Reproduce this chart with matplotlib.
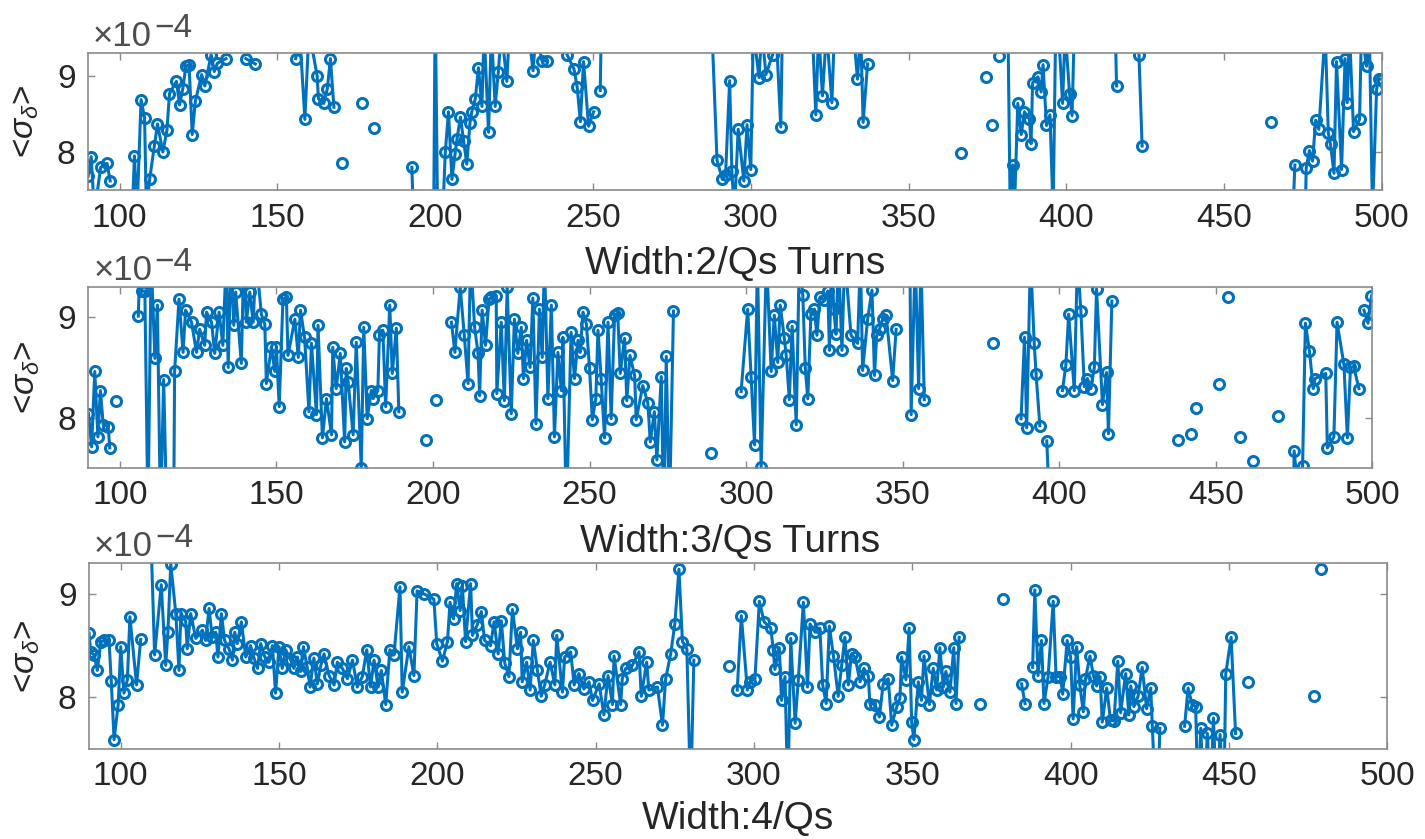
import numpy as np
import matplotlib
matplotlib.use("Agg")
import matplotlib.pyplot as plt

nan = np.nan

# ---------------- data (values in units of 1e-4) ----------------
x1 = [90, 91, 92, 94, 96, 97, nan,
      104, 104.7, 105.5, 106.8, 107.9, 108.5, 109.5, 111, 112, 113.7, 115, 115.8, 118, 119, 120,
      121, 122, 123, 124, 126, 127, 129, 130, 131, 133.7, nan,
      140, 143, nan,
      155.8, 157, 158.7, 160, 162.6, 163, 164.7, 165.8, 166.8, 167.9, nan,
      170.5, nan, 176.8, nan, 180.5, nan,
      192.6, 193.2, nan, 199.5, 200, 200.8, 202.5, 203.2, 204.2, 205.3, 206.3, 206.9, 208, 209, 210,
      211, 211.6, 212.7, 213.7, 214.8, 215.5, 216.9, 217.8, 219, 220, 221, 222.7, 223.5, nan,
      229.5, 231, 232, 233.8, 235.4, nan,
      241.8, 244, 245, 246, 247, 248.6, 250.2, nan, 252.3, 252.6, nan,
      287.7, 289.3, 291, 292, 293.3, 294, 294.8, 296, 297.8, 298.8, 300, 300.8, 302.6, 303.5,
      304.8, 306.9, 308, 309.5, 310, nan,
      319.5, 320.6, 321.5, 322.7, 324, 325.7, 326.5, nan,
      332.5, 333.8, 334.8, 335.6, 337, nan,
      366.6, nan, 374.5, nan, 376.4, nan, 378.8, nan,
      381.5, 382.2, 383, 383.5, 384.6, 385.7, 386.7, 388.3, 388.8, 389.3, 391, 392, 392.6, 393.7,
      394.8, 395.8, 396.6, 397.5, 398.8, 399.6, 401, 401.8, 402.5, nan,
      415.5, 415.9, nan, 423, 424, nan, 464.7, nan,
      471.8, 472.4, nan, 475.7, 476, 477, 478, 479, 480, 482, 483, 483.7, 484.8, 485.6, 487.2,
      488.3, 489, 489.7, 491, 492.9, 493.5, 495.1, 496, 497, 498.3, 499, 500]
y1 = [7.68, 7.94, 7.2, 7.80, 7.85, 7.62, nan,
      7.2, 7.95, 7.2, 8.69, 8.45, 7.2, 7.64, 8.08, 8.37, 8.00, 8.29, 8.77, 8.93, 8.62, 8.83,
      9.13, 9.15, 8.23, 8.67, 9.02, 8.87, 9.28, 9.06, 9.17, 9.23, nan,
      9.23, 9.16, nan,
      9.23, 9.6, 8.43, 9.6, 9.00, 8.70, 8.64, 8.83, 9.23, 8.59, nan,
      7.85, nan, 8.64, nan, 8.32, nan,
      7.80, 7.0, nan, 7.0, 10.0, 7.0, 7.3, 8.00, 8.53, 7.64, 7.98, 8.17, 8.46, 8.15, 7.84,
      8.38, 8.53, 8.70, 9.11, 8.60, 9.6, 8.26, 9.6, 8.60, 9.06, 9.6, 8.93, 9.6, nan,
      9.6, 9.07, 9.6, 9.20, 9.20, nan,
      9.28, 9.09, 8.85, 8.40, 9.19, 8.34, 8.53, nan, 8.81, 9.6, nan,
      9.6, 7.89, 7.64, 7.70, 8.94, 7.75, 7.2, 8.30, 7.62, 8.36, 7.77, 9.6, 8.98, 9.6,
      9.02, 9.28, 9.6, 8.33, 9.6, nan,
      9.6, 8.49, 9.6, 8.74, 9.6, 8.65, 9.6, nan,
      9.6, 8.96, 9.6, 8.39, 9.16, nan,
      7.99, nan, 8.99, nan, 8.36, nan, 9.26, nan,
      9.6, 7.2, 7.83, 7.2, 8.64, 8.23, 8.53, 8.43, 8.11, 8.91, 8.99, 8.79, 9.15, 8.35,
      8.49, 7.2, 9.6, 9.6, 8.64, 9.6, 8.77, 8.48, 9.6, nan,
      9.6, 8.87, nan, 9.28, 8.08, nan, 8.40, nan,
      7.2, 7.83, nan, 7.2, 7.79, 8.02, 7.88, 8.42, 8.30, 9.6, 8.25, 8.10, 7.72, 9.19, 7.77,
      9.23, 8.65, 9.6, 8.27, 8.43, 9.6, 9.13, 9.6, 7.2, 8.83, 8.96, 8.96]

x2 = [90, 91, 92, 93, 93.8, 94.7, 96.3, 96.8, nan, 98.9, nan,
      105.9, 106.5, 107, 108, 109, 110, 111.2, 112, 113, 114, 115, 117.2, 117.5, 118.9, 120.2,
      121, 122.9, 124.5, 125.5, 127.1, 127.7, 129.3, 130.3, 131.7, 132.9, 134, 134.6, 135.5,
      136.4, 137, 138.8, 139.6, 140.4, 141.5, 142.6, 143.5, 145.2, 146.3, 146.8, 148.4, 149.5,
      150, 150.9, 152.1, 153.2, 153.7, 155.9, 157, 157.7, 159, 160.4, 161.2, 162.8, 163.3,
      164.7, 166, 167.6, 168, 169.1, 170.4, 171.8, 172.3, 172.9, 174.5, 175.5, 177.1, 177.9,
      179, 180.3, 180.9, 182.4, 182.9, 184, 184.9, 186.2, 187, 188.3, 189.1, nan,
      197.9, nan, 200.9, nan,
      205.9, 207, 208.7, 210, 211.2, 212, 213.3, 214.4, 214.9, 215.7, 216.8, 217.9, 218.6,
      220.2, 220.4, 221.8, 222.8, 223.7, 225, 226, 227.1, 228.2, 228.9, 229.9, 231, 231.9,
      232.9, 234, 234.9, 235.6, 236.7, 237.8, 238.8, 239.9, 241, 241.5, 242.6, 244.1, 245.2,
      246.3, 247, 247.9, 249, 250, 250.9, 252, 252.7, 253.7, 254.8, 255.9, 256.9, 258, 259,
      259.8, 261.2, 261.9, 262.9, 264.4, 264.9, 267, 268.6, 269.4, 270.7, 271.5, 272.9, 273.7,
      274.5, 275.5, 276.8, nan,
      288.8, nan,
      298.4, 300.5, 301.6, 302.7, 303.6, 304.8, 306.5, 308, 309, 310.1, 310.9, 312.2, 312.8,
      313.8, 314.7, 316, 317, 318.1, 318.9, 319.7, 320.7, 321.8, 322.6, 323.6, 325, 326.1,
      326.6, 327.3, 328, 328.7, 329.5, 330.6, 331.5, 333.5, 335.6, 336.5, 337.2, 338.8, 340.2,
      341, 341.7, 342.6, 343.6, 344.7, 346.8, 347.9, nan,
      352.3, 352.7, 354, 355.1, 355.8, 356.9, nan,
      378.7, nan,
      387.8, 388.9, 389.6, 390.8, 392, 392.6, 393.8, nan, 396, 396.8, nan,
      401, 402.1, 403, 404.8, 405.8, 406.9, 408, 409, 410.1, 411.2, 411.9, 413.8, 415.1,
      415.7, 416.8, nan,
      437.8, nan, 442, nan, 443.8, nan, 450.9, nan, 454, nan, 457.7, nan, 461.9, nan, 470, nan,
      474.8, 475, 476.5, 477.7, 478.6, 479.9, 481.1, 481.7, 485.1, 485.6, 487.7, 488.7, 490.9,
      492, 493, 494, 495.7, nan, 497.3, 498.6, 499.7]
y2 = [8.04, 7.71, 8.46, 7.81, 8.27, 7.93, 7.91, 7.70, nan, 8.17, nan,
      9.01, 9.6, 9.26, 9.26, 7.0, 9.6, 8.59, 9.12, 7.0, 8.38, 7.0, 7.0, 8.46, 9.18, 8.65,
      9.07, 8.95, 8.65, 8.88, 8.72, 9.05, 8.95, 8.64, 9.05, 8.72, 9.6, 8.50, 9.6,
      8.92, 9.25, 8.54, 9.6, 8.95, 9.25, 8.95, 9.6, 9.03, 8.93, 8.34, 8.70, 8.46,
      8.70, 8.11, 9.18, 9.20, 8.62, 8.98, 8.60, 9.07, 8.80, 8.06, 8.74, 8.03, 8.92,
      7.80, 8.19, 7.83, 8.70, 8.29, 8.64, 7.76, 8.49, 8.36, 7.83, 8.75, 7.50, 8.90,
      7.99, 8.27, 8.19, 8.27, 8.82, 8.87, 8.11, 9.12, 8.44, 8.89, 8.06, nan,
      7.78, nan, 8.18, nan,
      8.95, 8.65, 9.30, 8.82, 8.34, 9.6, 8.90, 8.64, 8.22, 9.07, 8.72, 9.18, 9.20,
      9.21, 8.24, 8.95, 8.17, 9.30, 8.04, 8.98, 8.64, 8.90, 8.39, 8.77, 8.50, 9.19,
      7.94, 9.08, 8.60, 9.6, 8.19, 9.12, 7.81, 8.65, 8.27, 8.80, 7.0, 8.85, 8.39,
      8.77, 8.65, 9.05, 8.93, 8.49, 7.98, 8.19, 8.87, 8.39, 7.80, 8.95, 7.99, 9.02, 9.04,
      8.44, 8.79, 8.17, 8.62, 8.42, 7.98, 8.32, 8.15, 7.76, 8.06, 7.58, 8.41, 7.0,
      8.61, 7.0, 9.06, nan,
      7.65, nan,
      8.26, 9.08, 8.41, 7.73, 9.6, 7.51, 9.6, 8.46, 9.02, 8.55, 9.12, 8.79, 8.62,
      8.18, 8.91, 7.93, 9.6, 9.22, 8.49, 8.19, 9.03, 9.08, 8.82, 9.20, 9.17, 9.26,
      8.67, 9.6, 9.08, 8.83, 9.6, 8.67, 9.6, 8.82, 8.74, 9.6, 8.47, 8.98, 9.27,
      8.42, 8.82, 8.88, 8.98, 9.02, 8.37, 8.88, nan,
      9.6, 8.03, 9.6, 8.29, 9.6, 8.18, nan,
      8.74, nan,
      7.99, 8.80, 7.90, 9.6, 8.74, 8.43, 7.92, nan, 7.77, 7.2, nan,
      8.27, 8.52, 9.03, 8.27, 9.6, 9.06, 8.31, 8.39, 8.29, 8.50, 9.28, 8.13, 8.45,
      7.84, 9.16, nan,
      7.78, nan, 7.84, nan, 8.10, nan, 8.34, nan, 9.20, nan, 7.81, nan, 7.57, nan, 8.02, nan,
      7.2, 7.67, 7.2, 7.52, 8.94, 8.66, 8.29, 8.39, 8.44, 7.70, 7.81, 8.95, 8.53,
      7.80, 8.50, 8.51, 8.29, nan, 9.07, 8.94, 9.21]

x3 = [90, 90.5, 91.6, 92.6, 93.7, 94.7, 96.3, 97, 97.9, 99.2, 100, 101, 102.1, 102.9, 105, 106.3, nan,
      109.5, 110.7, 112.8, 114.2, 114.9, 115.8, 117.4, 118.4, 119, 120.5, 121, 122.1, 123.7,
      125.8, 126.8, 127.9, 128.9, 130, 130.7, 131.8, 132.8, 134.2, 135.3, 136, 136.8, 138.1,
      139.5, 141, 142.1, 143.2, 144.2, 145.5, 146.8, 147.9, 148.9, 150, 151, 152.1, 153.7,
      154.7, 155.8, 156.8, 157.7, 158.9, 159.8, 161, 162.1, 163.2, 164.2, 165.8, 167.4, 168.4,
      170, 171.6, 173.2, 174.7, 176.3, 177.7, 178.9, 180, 181.3, 182.3, 183.7, 185, 186.3,
      188.2, 188.9, 191, 192.6, 193.6, 195.8, 198.9, 199.8, 201.6, 203.2, 204, 205.1, 206.1,
      207.2, 207.9, 208.9, 210.5, 211.1, 212.6, 213.9, 214.9, 216.8, 217.9, 219.2, 220.2,
      221.3, 222.6, 223.7, 225.3, 226.3, 226.8, 228.2, 229.3, 230.3, 231.6, 232.8, 233.9,
      235.6, 237.1, 237.7, 239.5, 240.2, 242.1, 243.2, 244.7, 246.3, 247.9, 249, 251.1, 252.6,
      253.9, 255.3, 255.8, 257.9, 258.4, 259.5, 261.6, 263.7, 264.4, 266.1, 266.8, 269.5,
      271.1, 272.1, 273.7, 275, 276.3, 277.4, 278.8, 280, 281, nan,
      292.1, nan,
      294.7, 296, 297.9, 298.7, 300.3, 301.7, 303.2, 305.3, 306.1, 306.6, 308, 308.7, 309.8,
      310.7, 311.6, 313, 314, 315.6, 316.9, 317.7, 319.3, 320.8, 321.7, 322.8, 323.8, 325.1,
      326.6, 327.7, 328.7, 329.8, 330.8, 331.9, 333.5, 334.7, 336.1, 336.6, 338.2, 339.6,
      340.8, 342.4, 343.5, 345.1, 346.1, 346.6, 348, 349, 349.8, 350.5, 351.9, 352.9, 353.7,
      355.4, 356.6, 357.7, 358.7, 359.8, 360.6, 361.9, 363.1, 363.8, 364.8, nan,
      371.5, nan, 378.7, nan,
      384.5, 385.6, nan, 388, 388.7, 389.7, 390.8, 391.6, 392.9, 394.5, 395.4, 396.8, 397.5,
      398.9, 400, 400.8, 401.9, 402.9, 404, 404.7, 406.1, 407.2, 408.2, 409.3, 410, 411.4,
      412.6, 413.7, 414.9, 415.8, 417.4, 418.4, 419, 420, 421.3, 422.6, 424, 425.3, 425.8,
      426.8, 427.5, 428.2, nan,
      436, 437.1, 438.4, 439.5, 440.2, 441.1, 442.1, 443.2, 444.2, 445.1, 446.1, 447.2,
      448.4, 449, 450.7, 452.1, nan,
      456, nan, 476.8, nan, 479.2]
y3 = [8.62, 8.44, 8.41, 8.26, 8.54, 8.55, 8.55, 8.16, 7.59, 7.93, 8.49, 8.04, 8.17, 8.78, 8.12, 8.56, nan,
      9.6, 8.41, 9.09, 8.31, 8.63, 9.29, 8.81, 8.26, 8.81, 8.74, 8.47, 8.81, 8.57,
      8.65, 8.55, 8.86, 8.58, 8.63, 8.39, 8.81, 8.55, 8.47, 8.36, 8.63, 8.52, 8.73,
      8.39, 8.50, 8.38, 8.28, 8.52, 8.39, 8.34, 8.50, 8.04, 8.49, 8.28, 8.46, 8.36,
      8.28, 8.39, 8.25, 8.49, 8.29, 8.10, 8.38, 8.13, 8.31, 8.42, 8.21, 8.12, 8.34,
      8.28, 8.18, 8.36, 8.10, 8.20, 8.46, 8.10, 8.36, 8.10, 8.26, 7.93, 8.46, 8.41,
      9.07, 8.05, 8.49, 8.21, 9.03, 9.00, 8.95, 8.52, 8.35, 8.54, 8.92, 8.76, 9.10,
      8.84, 9.08, 8.54, 9.10, 8.60, 8.70, 8.83, 8.55, 8.50, 8.73, 8.42, 8.74,
      8.33, 8.20, 8.85, 8.47, 8.63, 8.15, 8.34, 8.07, 8.55, 8.26, 8.01, 8.12,
      8.34, 8.12, 8.60, 8.05, 8.39, 8.44, 8.12, 8.23, 8.08, 8.15, 7.97, 8.13, 7.83,
      8.21, 7.93, 8.40, 7.93, 8.18, 8.28, 8.31, 8.44, 8.01, 8.34, 8.07, 8.10,
      7.73, 8.18, 8.42, 8.71, 9.24, 8.54, 8.47, 7.0, 8.36, nan,
      8.30, nan,
      8.07, 8.79, 8.07, 8.15, 8.18, 8.93, 8.73, 8.67, 8.46, 8.27, 8.48, 7.97, 8.20,
      7.0, 8.57, 7.75, 8.17, 8.92, 8.10, 8.71, 8.63, 8.67, 8.12, 7.94, 8.69, 8.40,
      8.01, 8.31, 8.58, 8.12, 8.42, 8.39, 8.15, 8.28, 8.21, 7.94, 7.93, 7.81,
      8.13, 8.18, 7.73, 7.91, 7.99, 8.39, 8.17, 8.67, 7.76, 7.59, 8.15, 7.97, 8.40,
      7.93, 8.28, 8.07, 8.48, 8.10, 8.25, 8.05, 8.48, 7.94, 8.58, nan,
      7.94, nan, 8.95, nan,
      8.13, 7.94, nan, 8.29, 9.04, 8.21, 8.55, 7.94, 8.20, 8.93, 8.20, 8.20, 8.03,
      8.55, 8.39, 7.79, 8.49, 8.12, 7.86, 8.18, 8.40, 8.21, 8.11, 8.20, 7.76, 8.09,
      7.78, 7.77, 8.35, 7.85, 8.23, 7.83, 8.11, 7.91, 8.01, 8.29, 7.89, 8.09, 7.72,
      7.0, 7.0, 7.70, nan,
      7.72, 8.09, 7.93, 7.91, 7.0, 7.70, 7.0, 7.65, 7.0, 7.80, 7.0, 7.64,
      7.0, 8.23, 8.58, 7.65, nan,
      8.15, nan, 8.01, nan, 9.24]

xlabels = ["Width:2/Qs Turns", "Width:3/Qs Turns", "Width:4/Qs"]
xticks = [100, 150, 200, 250, 300, 350, 400, 450, 500]
yticks = [8, 9]

# ---------------- style ----------------
plt.rcParams['font.family'] = ['Liberation Sans', 'DejaVu Sans']
plt.rcParams['mathtext.fontset'] = 'custom'
plt.rcParams['mathtext.rm'] = 'Liberation Sans'
plt.rcParams['mathtext.it'] = 'Liberation Sans:italic'

BLUE = '#0072BD'
SPINE = '#8a8a8a'
TXT = '#262626'

fig = plt.figure(figsize=(14.25, 8.39), dpi=100)
rects = [
    [0.0618, 0.7735, 0.908, 0.163],
    [0.0621, 0.4422, 0.901, 0.2157],
    [0.0625, 0.1073, 0.911, 0.2217],
]
data = [(x1, y1), (x2, y2), (x3, y3)]
labelpads = [9, 9, 6]

for rect, (xs, ys), xl, lp in zip(rects, data, xlabels, labelpads):
    ax = fig.add_axes(rect)
    ax.plot(xs, ys, '-o', color=BLUE, lw=2.2, ms=7.2, mew=2.2, mfc='none')
    ax.set_xlim(90, 500)
    ax.set_ylim(7.5, 9.3)
    ax.set_xticks(xticks)
    ax.set_yticks(yticks)
    ax.tick_params(direction='in', top=True, right=True, length=5, width=1,
                   color=SPINE, labelcolor=TXT, labelsize=24, pad=9)
    for s in ax.spines.values():
        s.set_color(SPINE)
        s.set_linewidth(1.2)
    ax.set_xlabel(xl, fontsize=28, color=TXT, labelpad=lp)
    ax.set_ylabel(r'<$\sigma_\delta$>', fontsize=24, color=TXT)
    ax.yaxis.set_label_coords(-0.036, 0.5)
    t1 = ax.annotate('×10', xy=(0, 1), xycoords='axes fraction',
                     xytext=(5, 7), textcoords='offset pixels', ha='left', va='baseline',
                     fontsize=25, color='#4d4d4d')
    ax.annotate('−4', xy=(1, 0), xycoords=t1,
                xytext=(2, 16), textcoords='offset pixels', ha='left', va='baseline',
                fontsize=24, color='#4d4d4d')

fig.savefig('out.png', dpi=100)
